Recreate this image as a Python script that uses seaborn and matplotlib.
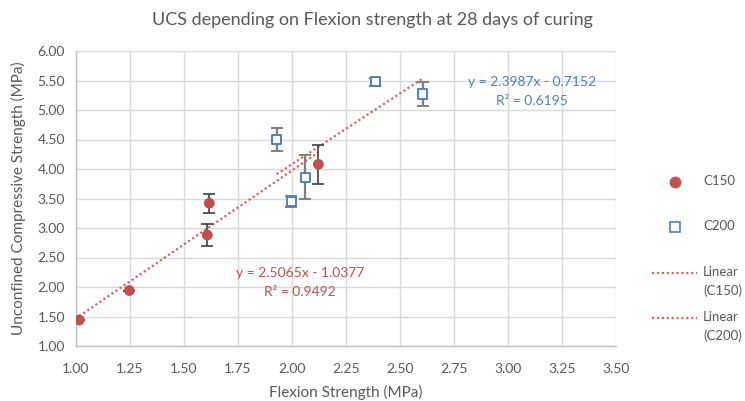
import numpy as np
import pandas as pd
import matplotlib
matplotlib.use("Agg")
import matplotlib.pyplot as plt
import seaborn as sns
from matplotlib.lines import Line2D

# ---- data ----
c150_x = [1.015, 1.247, 1.608, 1.617, 2.122]
c150_y = [1.44, 1.94, 2.88, 3.42, 4.08]
c150_err = [0.00, 0.00, 0.18, 0.16, 0.33]

c200_x = [1.929, 1.997, 2.062, 2.386, 2.605]
c200_y = [4.50, 3.45, 3.86, 5.48, 5.27]
c200_err = [0.20, 0.10, 0.37, 0.07, 0.20]

trend_c150 = [2.5065, -1.0377]   # slope, intercept
trend_c200 = [2.3987, -0.7152]
r2_c150 = 0.9492
r2_c200 = 0.6195

series_names = ["C150", "C200"]
legend_labels = ["C150", "C200", "Linear\n(C150)", "Linear\n(C200)"]
x_ticks = [1.00, 1.25, 1.50, 1.75, 2.00, 2.25, 2.50, 2.75, 3.00, 3.25, 3.50]
y_ticks = [1.00, 1.50, 2.00, 2.50, 3.00, 3.50, 4.00, 4.50, 5.00, 5.50, 6.00]

df = pd.DataFrame({
    "x": c150_x + c200_x,
    "y": c150_y + c200_y,
    "series": [series_names[0]] * len(c150_x) + [series_names[1]] * len(c200_x),
})

sns.set_theme(style="white")
FONT = ["Lato", "DejaVu Sans"]
plt.rcParams["font.family"] = FONT
TXT = "#595959"
RED = "#C0504D"
BLUE = "#4F81BD"
TREND = "#D9645F"
DOTS = (0, (1, 1.2))

W, H = 745, 401
L, R, T, B = 76, 616, 51, 346
fig = plt.figure(figsize=(W / 100, H / 100), dpi=100)
ax = fig.add_axes([L / W, 1 - B / H, (R - L) / W, (B - T) / H])

# trend lines
for coef, xs in [(trend_c150, c150_x), (trend_c200, c200_x)]:
    lx = np.array([min(xs), max(xs)])
    ly = coef[0] * lx + coef[1]
    sns.lineplot(x=lx, y=ly, ax=ax, color=TREND, linestyle=DOTS,
                 linewidth=1.6, zorder=3)

# error bars
ax.errorbar(c150_x, c150_y, yerr=c150_err, fmt="none", ecolor="#404040",
            elinewidth=1.2, capsize=4, capthick=1.2, zorder=4)
ax.errorbar(c200_x, c200_y, yerr=c200_err, fmt="none", ecolor="#7F7F7F",
            elinewidth=1.6, capsize=4, capthick=1.4, zorder=4)

# points
sns.scatterplot(data=df, x="x", y="y", hue="series", style="series",
                palette={"C150": RED, "C200": BLUE},
                markers={"C150": "o", "C200": "s"},
                size="series", sizes={"C150": 60, "C200": 45},
                ax=ax, zorder=5, legend=False, linewidth=0)
coll = ax.collections[-1]
coll.set_facecolors([RED if s == "C150" else "white" for s in df["series"]])
coll.set_edgecolors([RED if s == "C150" else BLUE for s in df["series"]])
coll.set_linewidths([0.0 if s == "C150" else 1.4 for s in df["series"]])

ax.set_xlim(x_ticks[0], x_ticks[-1])
ax.set_ylim(y_ticks[0], y_ticks[-1])
ax.set_xticks(x_ticks)
ax.set_yticks(y_ticks)
ax.set_xticklabels([f"{v:.2f}" for v in x_ticks])
ax.set_yticklabels([f"{v:.2f}" for v in y_ticks])
ax.tick_params(axis="x", labelsize=10, colors=TXT, length=0, pad=12)
ax.tick_params(axis="y", labelsize=10, colors=TXT, length=0, pad=8)
ax.grid(True, color="#D9D9D9", linewidth=1.0)
ax.set_axisbelow(True)
for side in ["top", "right"]:
    ax.spines[side].set_visible(False)
for side in ["left", "bottom"]:
    ax.spines[side].set_color("#BFBFBF")
    ax.spines[side].set_linewidth(1.0)

ax.set_xlabel("Flexion Strength (MPa)", fontsize=11, color=TXT, va="center")
ax.xaxis.set_label_coords(0.5, -(392 - B) / (B - T))
ax.set_ylabel("Unconfined Compressive Strength (MPa)", fontsize=11, color=TXT, va="center")
ax.yaxis.set_label_coords(-(L - 18) / (R - L), 0.5)
fig.text(372 / W, 1 - 20 / H, "UCS depending on Flexion strength at 28 days of curing",
         ha="center", va="center", fontsize=13, color=TXT)

# trendline equations
fig.text(300 / W, 1 - 273 / H, f"y = {trend_c150[0]}x - {abs(trend_c150[1])}",
         ha="center", va="center", fontsize=10, color=RED)
fig.text(300 / W, 1 - 292 / H, f"R² = {r2_c150}",
         ha="center", va="center", fontsize=10, color=RED)
fig.text(532 / W, 1 - 82 / H, f"y = {trend_c200[0]}x - {abs(trend_c200[1])}",
         ha="center", va="center", fontsize=10, color=BLUE)
fig.text(532 / W, 1 - 101 / H, f"R² = {r2_c200}",
         ha="center", va="center", fontsize=10, color=BLUE)

# legend (manual layout, Excel-like)
fig.add_artist(Line2D([675 / W], [1 - 182 / H], marker="o", linestyle="none",
                      markerfacecolor=RED, markeredgecolor=RED, markersize=7.5,
                      transform=fig.transFigure))
fig.add_artist(Line2D([675 / W], [1 - 227 / H], marker="s", linestyle="none",
                      markerfacecolor="white", markeredgecolor=BLUE,
                      markeredgewidth=1.2, markersize=7,
                      transform=fig.transFigure))
for yy in [273, 318]:
    fig.add_artist(Line2D([652 / W, 697 / W], [1 - yy / H, 1 - yy / H],
                          color=TREND, linestyle=DOTS, linewidth=1.6,
                          transform=fig.transFigure))
for lab, yy in zip(legend_labels, [182, 227, 273, 318]):
    fig.text(703 / W, 1 - (yy - 7) / H, lab, ha="left", va="top",
             fontsize=9.5, color=TXT, linespacing=1.6)

fig.savefig("out.png", dpi=100)
